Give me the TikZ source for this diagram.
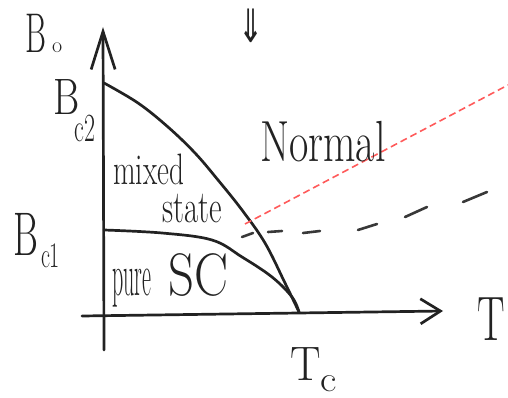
\documentclass[tikz,border=0pt]{standalone}
\usepackage{fontspec}
\newfontfamily\dejavu{DejaVu Sans}
\usetikzlibrary{arrows.meta}
\definecolor{ink}{HTML}{222222}
\definecolor{redd}{HTML}{FF5A5A}
\begin{document}
\begin{tikzpicture}[x=1pt,y=-1pt, line cap=round, line join=round,
  inkline/.style={draw=ink, line width=2.7pt},
  dashseg/.style={draw=ink!90, line width=2.6pt},
  lbl/.style={inner sep=0pt, anchor=base west, text=ink, font=\fontsize{40}{44}\selectfont}]
\useasboundingbox (0,0) rectangle (508,398);
% axes
\coordinate (yb) at (104,350);
\coordinate (yt) at (103,27);
\coordinate (xl) at (82,316);
\coordinate (xr) at (443,311);
\draw[inkline, -{Straight Barb[length=38pt,width=24pt]}] (yb) -- (yt);
\draw[inkline, -{Straight Barb[length=20pt,width=25pt]}] (xl) -- (xr);
% critical field curves
\coordinate (bc2) at (104,83);
\coordinate (bc1) at (104,230);
\coordinate (tc) at (299,312);
\draw[inkline] plot[smooth, tension=0.6] coordinates {(bc2) (138,103) (168,127) (195,153) (218,180) (242,210) (265,243) (285,283) (tc)};
\draw[inkline] plot[smooth, tension=0.6] coordinates {(bc1) (162,233) (212,240) (242,257) (272,277) (292,297) (tc)};
% red dashed line
\coordinate (r1) at (245,224);
\coordinate (r2) at (508,85);
\draw[redd, line width=1.6pt, line cap=butt, dash pattern=on 7pt off 4pt] (r1) -- (r2);
% hand-drawn dashed line
\draw[dashseg] (242,237) -- (253,233);
\draw[dashseg] (268,232) -- (282,231);
\draw[dashseg] (303,233) -- (320,231);
\draw[dashseg] (358,230) -- (377,224);
\draw[dashseg] (405,217) -- (427,207);
\draw[dashseg] (463,202) -- (487,192);
% labels
\node[lbl] (B0) at (25,53) {\scalebox{0.8}[1.4]{B}\hspace{6pt}\scalebox{0.55}{o}};
\node[lbl] (Bc2) at (53,115) {\scalebox{1.0}[1.28]{B}\hspace{-5pt}\raisebox{-27pt}{\scalebox{0.6}[1.0]{c2}}};
\node[lbl] (Bc1) at (13,255) {\scalebox{0.95}[1.54]{B}\hspace{3pt}\raisebox{-12pt}{\scalebox{0.55}[0.9]{c1}}};
\node[lbl] (T) at (477,340) {\scalebox{1.03}[1.57]{T}};
\node[lbl] (Tc) at (290,380) {\scalebox{1.14}[1.21]{T}\raisebox{-11pt}{\scalebox{1}[0.9]{c}}};
\node[lbl] (normal) at (260,162) {\scalebox{1.05}[1.45]{Normal}};
\node[lbl] (mixed) at (113,185) {\scalebox{0.73}[1.1]{mixed}};
\node[lbl] (state) at (162,222) {\scalebox{0.77}[1.15]{state}};
\node[lbl] (pure) at (112,295) {\scalebox{0.55}[1.5]{pure}\hspace{17pt}\scalebox{1.27}[1.5]{SC}};
\node[inner sep=0pt, text=ink, font=\fontsize{40}{44}\dejavu] (arr) at (251,26) {\scalebox{0.75}[1.15]{⇓}};
\end{tikzpicture}
\end{document}
